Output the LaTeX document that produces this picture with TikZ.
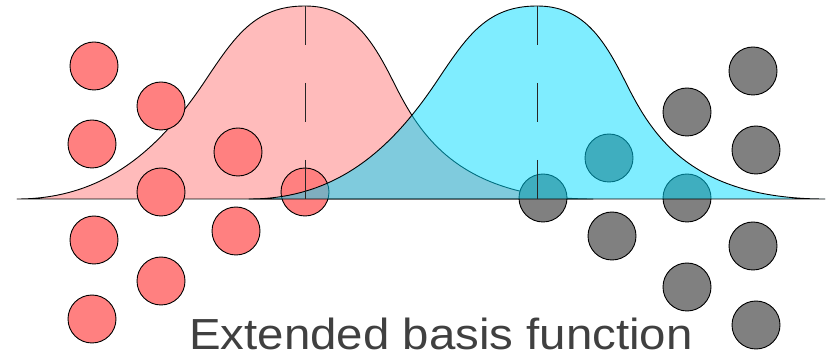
\documentclass[tikz,border=0pt]{standalone}
\usepackage{fontspec}
\newfontfamily\labelfont[FakeStretch=1.09]{Liberation Sans}
\definecolor{pinkfill}{RGB}{255,187,187}
\definecolor{redcirc}{RGB}{255,128,128}
\definecolor{graycirc}{RGB}{128,128,128}
\definecolor{cyanfill}{RGB}{0,220,255}
\definecolor{textgray}{RGB}{64,64,64}
\newcommand{\bumpshape}{(-288,0) .. controls (-200,0) and (-145,-50.5) .. (-100,-118)
  .. controls (-70,-163) and (-50,-193) .. (0,-193)
  .. controls (45,-193) and (66,-162) .. (88,-118)
  .. controls (113,-68) and (150,0) .. (288,0) -- cycle}
\begin{document}
\begin{tikzpicture}[x=1pt,y=-1pt,
  curveline/.style={draw=black, line width=0.9pt, line join=round},
  redball/.style={circle, draw=black, line width=0.9pt, fill=redcirc, minimum size=48pt, inner sep=0pt},
  grayball/.style={circle, draw=black, line width=0.9pt, fill=graycirc, minimum size=48pt, inner sep=0pt},
  centerdash/.style={draw=black!85, line width=1pt, dash pattern=on 39pt off 38pt}]
\useasboundingbox (0,0) rectangle (836,355);
\coordinate (redpeak) at (305,6);
\coordinate (redbase) at (305,199);
\coordinate (cyanpeak) at (537,6);
\coordinate (cyanbase) at (537,199);
% red basis function
\begin{scope}[shift={(305,199)}]
\path[curveline, fill=pinkfill] \bumpshape;
\end{scope}
% red points
\node[redball] (r1) at (94,66) {};
\node[redball] (r2) at (161,106) {};
\node[redball] (r3) at (92,144) {};
\node[redball] (r4) at (161,192) {};
\node[redball] (r5) at (238,152) {};
\node[redball] (r6) at (94,240) {};
\node[redball] (r7) at (236,231) {};
\node[redball] (r8) at (161,281) {};
\node[redball] (r9) at (92,319) {};
\node[redball] (r10) at (305,192) {};
% gray points
\node[grayball] (g1) at (753,71) {};
\node[grayball] (g2) at (687,112) {};
\node[grayball] (g3) at (756,150) {};
\node[grayball] (g4) at (609,158) {};
\node[grayball] (g5) at (687,198) {};
\node[grayball] (g6) at (543,198) {};
\node[grayball] (g7) at (612,236) {};
\node[grayball] (g8) at (753,246) {};
\node[grayball] (g9) at (687,287) {};
\node[grayball] (g10) at (756,325) {};
% cyan basis function
\begin{scope}[shift={(537,199)}]
\path[curveline, fill=cyanfill, fill opacity=0.5] \bumpshape;
\end{scope}
% centre lines
\draw[centerdash] (redpeak) -- (redbase);
\draw[centerdash] (cyanpeak) -- (cyanbase);
% caption
\node[anchor=base, text=textgray, inner sep=0pt, font=\labelfont\fontsize{43.5}{50}\selectfont] (caption) at (441,349.5) {Extended basis function};
\end{tikzpicture}
\end{document}
